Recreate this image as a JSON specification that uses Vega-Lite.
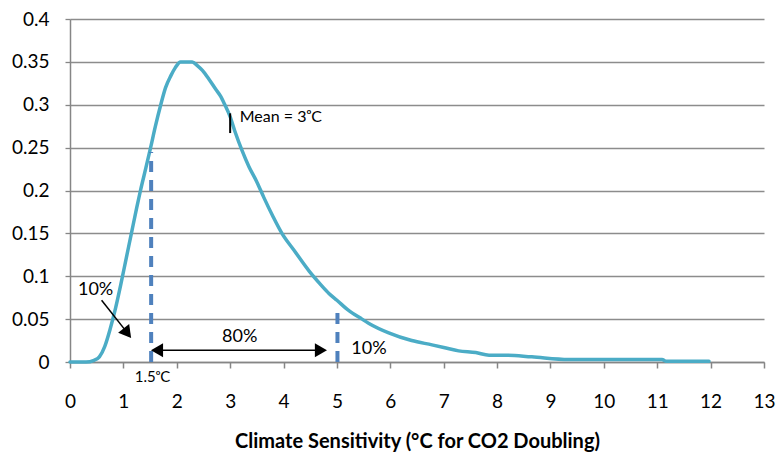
{
  "$schema": "https://vega.github.io/schema/vega-lite/v6.json",
  "width": 694,
  "height": 343,
  "autosize": {"type": "none"},
  "padding": {"left": 70, "top": 19, "right": 15, "bottom": 94},
  "background": "white",
  "config": {
    "view": {"stroke": null},
    "font": "Lato",
    "axis": {"labelFont": "Lato", "titleFont": "Lato", "labelColor": "#000000", "titleColor": "#000000"}
  },
  "datasets": {
    "curve": [
      {"x": 0, "y": 0}, {"x": 0.3, "y": 0}, {"x": 0.45, "y": 0.002}, {"x": 0.55, "y": 0.006},
      {"x": 0.65, "y": 0.018}, {"x": 0.75, "y": 0.038}, {"x": 0.85, "y": 0.062}, {"x": 0.95, "y": 0.09},
      {"x": 1.05, "y": 0.12}, {"x": 1.15, "y": 0.15}, {"x": 1.25, "y": 0.18}, {"x": 1.32, "y": 0.2},
      {"x": 1.42, "y": 0.226}, {"x": 1.51, "y": 0.25}, {"x": 1.6, "y": 0.275}, {"x": 1.7, "y": 0.3},
      {"x": 1.79, "y": 0.32}, {"x": 1.89, "y": 0.334}, {"x": 1.97, "y": 0.343}, {"x": 2.07, "y": 0.35},
      {"x": 2.29, "y": 0.35}, {"x": 2.38, "y": 0.346}, {"x": 2.48, "y": 0.34}, {"x": 2.6, "y": 0.33},
      {"x": 2.73, "y": 0.318}, {"x": 2.82, "y": 0.31}, {"x": 2.9, "y": 0.3}, {"x": 3.0, "y": 0.286},
      {"x": 3.1, "y": 0.267}, {"x": 3.22, "y": 0.247}, {"x": 3.35, "y": 0.228}, {"x": 3.5, "y": 0.21},
      {"x": 3.63, "y": 0.192}, {"x": 3.8, "y": 0.17}, {"x": 3.97, "y": 0.15}, {"x": 4.2, "y": 0.13},
      {"x": 4.48, "y": 0.106}, {"x": 4.7, "y": 0.09}, {"x": 4.85, "y": 0.08}, {"x": 5.0, "y": 0.072},
      {"x": 5.2, "y": 0.061}, {"x": 5.47, "y": 0.05}, {"x": 5.6, "y": 0.045}, {"x": 5.97, "y": 0.034},
      {"x": 6.4, "y": 0.025}, {"x": 6.78, "y": 0.02}, {"x": 7.0, "y": 0.017}, {"x": 7.28, "y": 0.013},
      {"x": 7.6, "y": 0.011}, {"x": 7.85, "y": 0.008}, {"x": 8.16, "y": 0.008}, {"x": 8.65, "y": 0.006},
      {"x": 9.34, "y": 0.003}, {"x": 11.09, "y": 0.003}, {"x": 11.16, "y": 0.001}, {"x": 11.97, "y": 0.001}
    ],
    "dashes": [
      {"x": 1.52, "y": 0, "y2": 0.245},
      {"x": 5.01, "y": 0, "y2": 0.061}
    ],
    "arrows": [
      {"x": 1.6, "x2": 4.75, "y": 0.0136, "y2": 0.0136},
      {"x": 0.592, "x2": 1.075, "y": 0.072, "y2": 0.034}
    ],
    "heads": [
      {"x": 1.63, "y": 0.0136, "shape": "triangle-left", "angle": 0},
      {"x": 4.70, "y": 0.0136, "shape": "triangle-right", "angle": 0},
      {"x": 1.075, "y": 0.0337, "shape": "triangle-up", "angle": 142}
    ],
    "meanTick": [{"x": 3.0, "y": 0.267, "y2": 0.29}],
    "labels": [
      {"x": 0.48, "y": 0.0835, "text": "10%"},
      {"x": 3.18, "y": 0.029, "text": "80%"},
      {"x": 5.6, "y": 0.0156, "text": "10%"}
    ],
    "smallCenter": [
      {"x": 1.545, "y": -0.0175, "text": "1.5ᵒC"}
    ],
    "smallLeft": [
      {"x": 3.18, "y": 0.2857, "text": "Mean = 3ᵒC"}
    ]
  },
  "layer": [
    {
      "data": {"name": "curve"},
      "mark": {"type": "line", "color": "#4BACC6", "strokeWidth": 3.5, "strokeJoin": "round", "strokeCap": "round", "interpolate": "monotone"},
      "encoding": {
        "x": {
          "field": "x", "type": "quantitative",
          "scale": {"domain": [0, 13], "nice": false, "zero": false},
          "axis": {
            "values": [0,1,2,3,4,5,6,7,8,9,10,11,12,13],
            "grid": false,
            "domainColor": "#868686", "domainWidth": 1.5,
            "tickColor": "#868686", "tickSize": 6, "tickWidth": 1.5,
            "labelFontSize": 19, "labelPadding": 24, "labelFlush": false,
            "title": "Climate Sensitivity  (°C for CO2 Doubling)",
            "titleFontSize": 20, "titleFontWeight": "bold", "titlePadding": 20
          }
        },
        "y": {
          "field": "y", "type": "quantitative",
          "scale": {"domain": [0, 0.4], "nice": false},
          "axis": {
            "values": [0, 0.05, 0.1, 0.15, 0.2, 0.25, 0.3, 0.35, 0.4],
            "format": "~g",
            "grid": true, "gridColor": "#8c8c8c", "gridWidth": 1.3,
            "domainColor": "#868686", "domainWidth": 1.5,
            "tickColor": "#868686", "tickSize": 5, "tickWidth": 1.3,
            "labelFontSize": 19, "labelPadding": 16,
            "title": null
          }
        },
        "order": {"field": "x", "type": "quantitative"}
      }
    },
    {
      "data": {"name": "dashes"},
      "mark": {"type": "rule", "color": "#4F81BD", "strokeWidth": 4, "strokeDash": [11, 8]},
      "encoding": {
        "x": {"field": "x", "type": "quantitative"},
        "y": {"field": "y", "type": "quantitative"},
        "y2": {"field": "y2"}
      }
    },
    {
      "data": {"name": "arrows"},
      "mark": {"type": "rule", "color": "#000000", "strokeWidth": 1.5},
      "encoding": {
        "x": {"field": "x", "type": "quantitative"},
        "x2": {"field": "x2"},
        "y": {"field": "y", "type": "quantitative"},
        "y2": {"field": "y2"}
      }
    },
    {
      "data": {"name": "heads"},
      "mark": {"type": "point", "filled": true, "color": "#000000", "size": 196, "opacity": 1},
      "encoding": {
        "x": {"field": "x", "type": "quantitative"},
        "y": {"field": "y", "type": "quantitative"},
        "shape": {"field": "shape", "type": "nominal", "scale": null},
        "angle": {"field": "angle", "type": "quantitative", "scale": null}
      }
    },
    {
      "data": {"name": "meanTick"},
      "mark": {"type": "rule", "color": "#000000", "strokeWidth": 2},
      "encoding": {
        "x": {"field": "x", "type": "quantitative"},
        "y": {"field": "y", "type": "quantitative"},
        "y2": {"field": "y2"}
      }
    },
    {
      "data": {"name": "labels"},
      "mark": {"type": "text", "fontSize": 18, "color": "#000000", "baseline": "middle", "align": "center"},
      "encoding": {
        "x": {"field": "x", "type": "quantitative"},
        "y": {"field": "y", "type": "quantitative"},
        "text": {"field": "text"}
      }
    },
    {
      "data": {"name": "smallCenter"},
      "mark": {"type": "text", "fontSize": 15, "color": "#000000", "baseline": "middle", "align": "center"},
      "encoding": {
        "x": {"field": "x", "type": "quantitative"},
        "y": {"field": "y", "type": "quantitative"},
        "text": {"field": "text"}
      }
    },
    {
      "data": {"name": "smallLeft"},
      "mark": {"type": "text", "fontSize": 16, "color": "#000000", "baseline": "middle", "align": "left"},
      "encoding": {
        "x": {"field": "x", "type": "quantitative"},
        "y": {"field": "y", "type": "quantitative"},
        "text": {"field": "text"}
      }
    }
  ]
}
